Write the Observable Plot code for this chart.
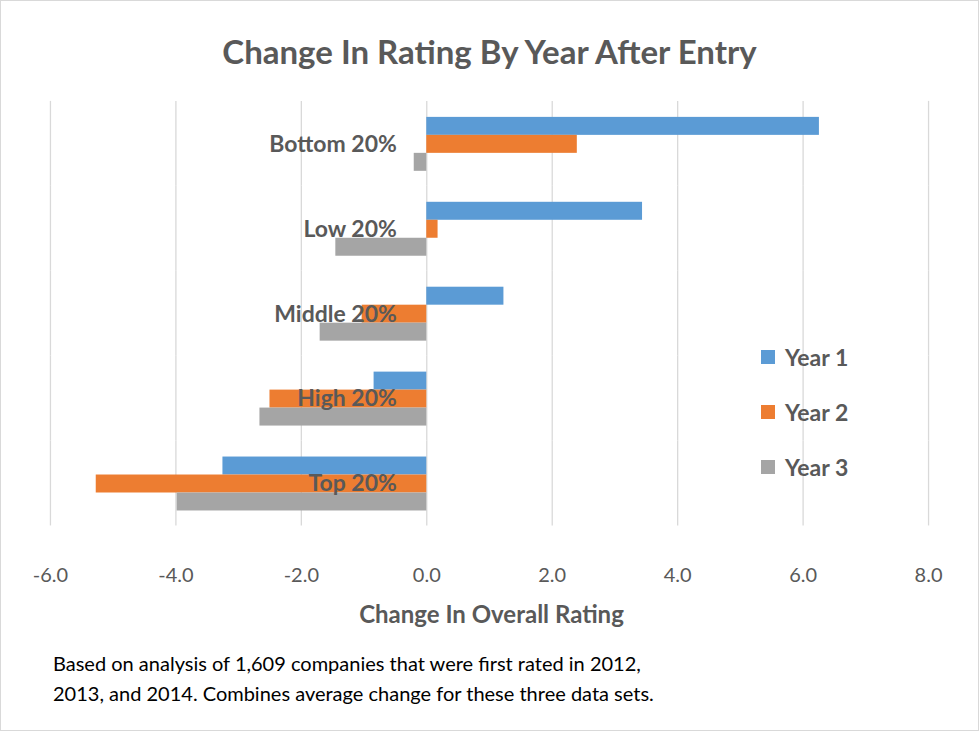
<!DOCTYPE html>
<html><head><meta charset="utf-8">
<script src="https://cdn.jsdelivr.net/npm/d3@7"></script>
<script src="https://cdn.jsdelivr.net/npm/@observablehq/plot@0.6"></script>
<style>
body{margin:0;background:#fff;font-family:Lato,"Open Sans",sans-serif;}
#wrap{position:relative;width:977px;height:729px;border:1px solid #d9d9d9;overflow:hidden;}
#chart{position:absolute;left:-1px;top:-1px;}
.t{position:absolute;white-space:nowrap;}
</style></head><body>
<div id="wrap">
<div id="chart"></div>
<div class="t" style="left:0;width:977px;text-align:center;top:30px;font-size:33px;font-weight:bold;color:#595959">Change In Rating By Year After Entry</div>
<div class="t" style="left:0;width:977px;text-align:center;top:598px;font-size:24px;font-weight:bold;color:#595959;padding-left:2px">Change In Overall Rating</div>
<div class="t" style="left:52px;top:647px;font-size:20px;color:#000;line-height:30px">Based on analysis of 1,609 companies that were first rated in 2012,<br>2013, and 2014. Combines average change for these three data sets.</div>
<div id="legend"></div>
</div>
<script>
const categories = ["Bottom 20%","Low 20%","Middle 20%","High 20%","Top 20%"];
const series = ["Year 1","Year 2","Year 3"];
const year1 = [6.26, 3.44, 1.23, -0.84, -3.25];
const year2 = [2.40, 0.18, -1.03, -2.50, -5.27];
const year3 = [-0.20, -1.45, -1.70, -2.66, -3.98];
const xTicks = [-6,-4,-2,0,2,4,6,8];
const colors = ["#5B9BD5","#ED7D31","#A5A5A5"];

const vals = [year1, year2, year3];
const data = [];
categories.forEach((c,i)=>series.forEach((s,j)=>data.push({cat:c, year:s, v:vals[j][i]})));

const chart = Plot.plot({
  width: 979, height: 731,
  marginLeft: 50, marginRight: 50, marginTop: 101, marginBottom: 205,
  style: {fontFamily: "Lato, 'Open Sans', sans-serif", fontSize: "20px", color: "#595959", overflow:"visible"},
  x: {domain: [-6, 8], ticks: xTicks, tickFormat: d => d.toFixed(1), tickSize: 0, label: null, tickPadding: 42},
  y: {domain: series, paddingInner: 0, paddingOuter: 0.86, axis: null},
  fy: {domain: categories, padding: 0, axis: null},
  color: {domain: series, range: colors},
  marks: [
    Plot.gridX(xTicks, {stroke: "#d9d9d9", strokeOpacity: 1, strokeWidth: 1.3}),
    Plot.barX(data, {fy: "cat", y: "year", x: "v", fill: "year", insetTop: 0, insetBottom: 0}),
    Plot.text(categories, {fy: d => d, y: () => "Year 2", x: () => 0, text: d => d, dx: -30, textAnchor: "end", fontWeight: "bold", fontSize: 23, fill: "#595959"})
  ]
});
document.getElementById("chart").appendChild(chart);

const lg = document.getElementById("legend");
series.forEach((s,i)=>{
  const d = document.createElement("div");
  d.className = "t";
  d.style.cssText = `left:760px;top:${342+i*55}px;font-size:23px;font-weight:bold;color:#595959;display:flex;align-items:center;z-index:2`;
  d.innerHTML = `<span style="display:inline-block;width:14px;height:14px;background:${colors[i]};margin-right:10px"></span>${s}`;
  lg.appendChild(d);
});
</script>
</body></html>
